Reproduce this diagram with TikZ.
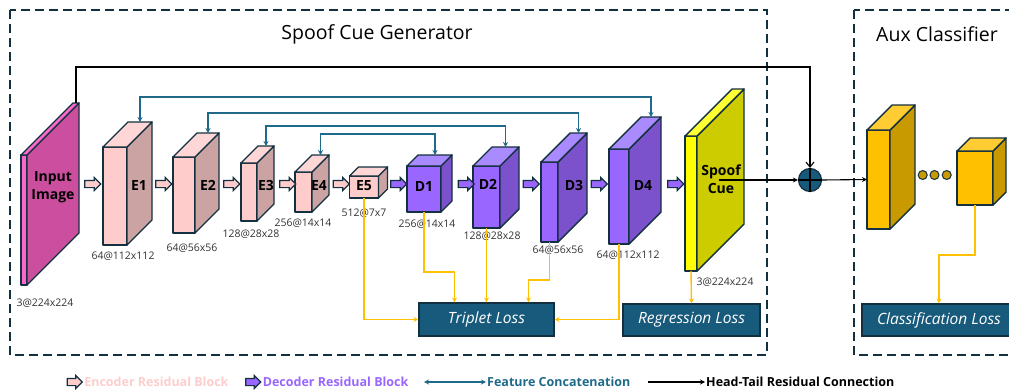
\documentclass[tikz,border=0pt]{standalone}
\usepackage{fontspec}
\setmainfont{Open Sans}
\usetikzlibrary{positioning,arrows.meta,calc,shapes.arrows}

\definecolor{framec}{HTML}{12303F}
\definecolor{encfront}{HTML}{FFCCCC}
\definecolor{encside}{HTML}{CCA3A3}
\definecolor{enctop}{HTML}{FFD6D6}
\definecolor{decfront}{HTML}{9966FF}
\definecolor{decside}{HTML}{7B52CC}
\definecolor{dectop}{HTML}{A98AFF}
\definecolor{inpfront}{HTML}{FF66CC}
\definecolor{inpside}{HTML}{CC4F9F}
\definecolor{cuefront}{HTML}{FFFF00}
\definecolor{cueside}{HTML}{CCCC00}
\definecolor{cuetop}{HTML}{FFFF33}
\definecolor{auxfront}{HTML}{FFC000}
\definecolor{auxside}{HTML}{C99A00}
\definecolor{auxtop}{HTML}{FFCC33}
\definecolor{concatc}{HTML}{1F6A8A}
\definecolor{lossc}{HTML}{175A7B}
\definecolor{feedc}{HTML}{FFC000}
\definecolor{dimc}{HTML}{333333}

% name, centre, width, height, depth, front, side, top
\newcommand{\cuboid}[8]{%
  \node[face,fill=#6,minimum width=#3,minimum height=#4] (#1) at #2 {};
  \draw[face,fill=#7] (#1.north east) -- ++(#5,-#5) -- ++(0,#4) -- (#1.south east) -- cycle;
  \draw[face,fill=#8] (#1.north west) -- ++(#5,-#5) -- ++(#3,0) -- (#1.north east) -- cycle;
  \coordinate (#1-t) at ($(#1.north)+(#5,-#5)$);
}

\begin{document}
\begin{tikzpicture}[x=1pt,y=-1pt,>={Stealth[length=5pt,width=5pt]},
  face/.style={draw=framec,line width=1.4pt,line join=round,inner sep=0pt,outer sep=0pt},
  blocklab/.style={font=\bfseries\fontsize{14}{18}\selectfont,inner sep=0pt},
  dimlab/.style={font=\fontsize{10.5}{12}\selectfont,text=dimc,inner sep=0pt},
  encarrow/.style={single arrow,draw=framec,fill=encfront,line width=1.2pt,minimum height=16pt,
    inner sep=3pt,single arrow head extend=3pt,single arrow head indent=0pt},
  decarrow/.style={encarrow,fill=decfront},
  concat/.style={<->,draw=concatc,line width=1.2pt},
  feed/.style={->,draw=feedc,line width=1.4pt},
  res/.style={->,draw=black,line width=1.1pt},
  loss/.style={draw=framec,fill=lossc,line width=1.2pt,text=white,
    font=\itshape\fontsize{15.5}{18}\selectfont},
  framebox/.style={draw=framec,line width=1.6pt,dash pattern=on 9pt off 5pt},
  title/.style={font=\fontsize{19.5}{23}\selectfont,text=black},
  legtext/.style={anchor=west,inner sep=1pt,font=\bfseries\fontsize{12.5}{14}\selectfont},
  dot/.style={circle,draw=framec,fill=auxside,line width=1pt,minimum size=9pt,inner sep=0pt}]
\useasboundingbox (0,0) rectangle (1009,391);

\draw[framebox] (10,10) rectangle (767,355);
\draw[framebox] (854,10) rectangle (1030,355);
\node[title] (gen-title) at (377,34) {Spoof Cue Generator};
\node[title] (aux-title) at (937,34) {Aux Classifier};

\cuboid{inp}{(24,220)}{6}{130}{52}{inpfront}{inpside}{inpfront}
\cuboid{e1}{(115,196)}{24}{98}{25}{encfront}{encside}{enctop}
\cuboid{e2}{(184,195)}{22}{76}{24}{encfront}{encside}{enctop}
\cuboid{e3}{(249,192)}{16}{58}{17}{encfront}{encside}{enctop}
\cuboid{e4}{(303.5,192)}{17}{40}{17}{encfront}{encside}{enctop}
\cuboid{e5}{(364,187)}{29}{22}{9}{encfront}{encside}{enctop}
\cuboid{d1}{(424,189)}{34}{46}{11}{decfront}{decside}{dectop}
\cuboid{d2}{(486.5,197)}{27}{62}{19}{decfront}{decside}{dectop}
\cuboid{d3}{(549.5,202)}{17}{80}{29}{decfront}{decside}{dectop}
\cuboid{d4}{(619,196.5)}{20}{95}{32}{decfront}{decside}{dectop}
\cuboid{sc}{(691,203.5)}{12}{135}{47}{cuefront}{cueside}{cuetop}
\cuboid{a1}{(878.5,179.5)}{23}{99}{25}{auxfront}{auxside}{auxtop}
\cuboid{a2}{(975,178)}{36}{54}{13}{auxfront}{auxside}{auxtop}

\node[blocklab,align=center] (inp-lab) at (53,187) {Input\\Image};
\node[blocklab] (e1-lab) at (139,185) {E1};
\node[blocklab] (e2-lab) at (208,185) {E2};
\node[blocklab] (e3-lab) at (266,185) {E3};
\node[blocklab] (e4-lab) at (319,185) {E4};
\node[blocklab] (e5-lab) at (364,186) {E5};
\node[blocklab] (d1-lab) at (424,186) {D1};
\node[blocklab] (d2-lab) at (488,184) {D2};
\node[blocklab] (d3-lab) at (574,185) {D3};
\node[blocklab] (d4-lab) at (643,185) {D4};
\node[blocklab,align=center] (sc-lab) at (721,179) {Spoof\\Cue};

\node[dimlab] (inp-dim) at (45,303) {3@224x224};
\node[dimlab] (e1-dim) at (123,256) {64@112x112};
\node[dimlab] (e2-dim) at (192,248) {64@56x56};
\node[dimlab] (e3-dim) at (251,234) {128@28x28};
\node[dimlab] (e4-dim) at (303,223) {256@14x14};
\node[dimlab] (e5-dim) at (364,213) {512@7x7};
\node[dimlab] (d1-dim) at (427,224) {256@14x14};
\node[dimlab] (d2-dim) at (492,236) {128@28x28};
\node[dimlab] (d3-dim) at (558,250) {64@56x56};
\node[dimlab] (d4-dim) at (628,255) {64@112x112};
\node[dimlab] (sc-dim) at (725,282) {3@224x224};

\node[encarrow] (ea0) at (91,184) {};
\node[encarrow] (ea1) at (162,184) {};
\node[encarrow] (ea2) at (230,184) {};
\node[encarrow] (ea3) at (286,184) {};
\node[encarrow] (ea4) at (339.5,184) {};
\node[decarrow] (da0) at (397,184) {};
\node[decarrow] (da1) at (464.5,184) {};
\node[decarrow] (da2) at (529.5,184) {};
\node[decarrow] (da3) at (597.5,184) {};
\node[decarrow] (da4) at (674,184) {};

\draw[concat] (e1-t) -- ++(0,-25) -| (d4-t);
\draw[concat] (e2-t) -- ++(0,-20) -| (d3-t);
\draw[concat] (e3-t) -- ++(0,-20) -| (d2-t);
\draw[concat] (e4-t) -- ++(0,-21) -| (d1-t);

\node[loss,minimum width=135pt,minimum height=33pt] (trip) at (486.5,319.5) {Triplet Loss};
\node[loss,minimum width=137pt,minimum height=32pt] (reg) at (691.5,320) {Regression Loss};
\node[loss,minimum width=154pt,minimum height=32pt] (cls) at (939,320) {Classification Loss};

\draw[feed] (e5.south) |- (trip.west);
\draw[feed] (d1.south) -- ++(0,60) -| ([xshift=-32pt]trip.north);
\draw[feed] (d2.south) -- (trip.north);
\draw[feed] (d3.south) -- ++(0,38) -| ([xshift=42pt]trip.north);
\draw[feed] (d4.south) |- (trip.east);
\draw[feed] (sc.south) -- (reg.north);
\draw[feed] (a2.south) -- ++(0,50) -| (cls.north);

\node[circle,draw=framec,fill=lossc,line width=1.2pt,minimum size=23pt,inner sep=0pt] (plus) at (810,180) {};
\draw[black,line width=1.6pt] (plus.north) -- (plus.south) (plus.west) -- (plus.east);
\coordinate (cue-out) at (719,180);
\draw[res] (cue-out) -- (plus.west);
\draw[res] (plus.east) -- (a1.west);
\draw[black,line width=1.1pt,-{Straight Barb[length=5pt,width=8pt]}] (inp-t) -- ++(0,-36) -| (plus.north);

\node[dot] (dot1) at (922.7,175) {};
\node[dot] (dot2) at (934.5,175) {};
\node[dot] (dot3) at (946.7,175) {};

\node[encarrow,minimum height=15pt] (leg-enc) at (73,382) {};
\node[legtext,text=encfront] (leg-enc-t) at (leg-enc.east) {Encoder Residual Block};
\node[decarrow,minimum height=15pt] (leg-dec) at (251.5,382) {};
\node[legtext,text=decfront] (leg-dec-t) at (leg-dec.east) {Decoder Residual Block};
\coordinate (leg-cat-a) at (424,382);
\coordinate (leg-cat-b) at (486,382);
\draw[concat] (leg-cat-a) -- (leg-cat-b);
\node[legtext,text=concatc] (leg-cat-t) at (leg-cat-b) {Feature Concatenation};
\coordinate (leg-res-a) at (648,382);
\coordinate (leg-res-b) at (705,382);
\draw[res,line width=1.6pt] (leg-res-a) -- (leg-res-b);
\node[legtext,text=black] (leg-res-t) at (leg-res-b) {Head-Tail Residual Connection};
\end{tikzpicture}
\end{document}
